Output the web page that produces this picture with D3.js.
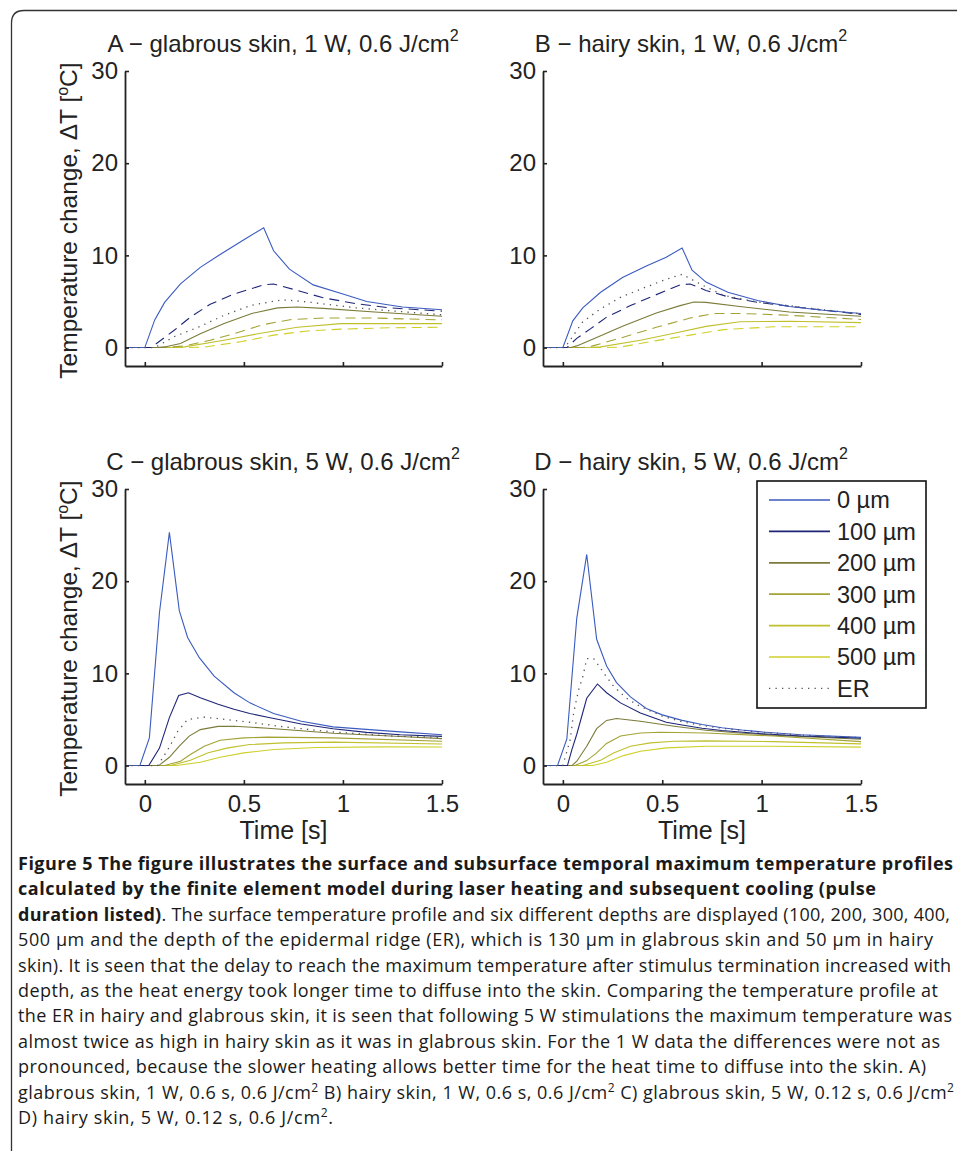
<!DOCTYPE html>
<html>
<head>
<meta charset="utf-8">
<script src="https://cdn.jsdelivr.net/npm/d3@7"></script>
<style>
  body { margin: 0; background: #fff; }
  svg text { font-family: "Liberation Sans", Arial, Helvetica, sans-serif; fill: #222; }
  .caption text { font-family: "Open Sans", sans-serif; fill: #1a1a1a; }
</style>
</head>
<body>
<svg id="fig"></svg>
<script>
// ---- data -------------------------------------------------------------
// depth labels in legend order, one series per depth in every panel
const depths = ['0 µm', '100 µm', '200 µm', '300 µm', '400 µm', '500 µm', 'ER'];
const depthColors = ['#3b5bbf', '#1e2578', '#7b7b3a', '#a3a335', '#c0c02e', '#cfcf2a', '#555555'];

const panelTitles = [
  'A \u2212 glabrous skin, 1 W, 0.6 J/cm',
  'B \u2212 hairy skin, 1 W, 0.6 J/cm',
  'C \u2212 glabrous skin, 5 W, 0.6 J/cm',
  'D \u2212 hairy skin, 5 W, 0.6 J/cm'
];
const xTicks = [0, 0.5, 1, 1.5];
const yTicks = [0, 10, 20, 30];

// [time (s), temperature change (°C)]
const panelA = [
  [[-0.1,0],[0,0],[0.05,3.0],[0.1,4.9],[0.18,6.9],[0.28,8.7],[0.38,10.1],[0.5,11.7],[0.6,13.0],[0.65,10.5],[0.73,8.5],[0.85,6.8],[1.0,5.8],[1.12,5.0],[1.3,4.4],[1.5,4.1]],
  [[-0.1,0],[0.03,0],[0.05,0.3],[0.15,1.9],[0.23,3.3],[0.33,4.7],[0.45,5.8],[0.54,6.4],[0.6,6.8],[0.65,6.9],[0.77,6.2],[0.9,5.4],[1.07,4.75],[1.24,4.3],[1.5,3.95]],
  [[-0.1,0],[0.06,0],[0.1,0.07],[0.18,0.45],[0.28,1.5],[0.4,2.6],[0.54,3.7],[0.67,4.3],[0.77,4.4],[0.9,4.25],[1.16,3.85],[1.5,3.4]],
  [[-0.1,0],[0.1,0],[0.2,0.18],[0.33,0.8],[0.45,1.5],[0.6,2.5],[0.74,3.05],[0.9,3.2],[1.16,3.2],[1.5,3.0]],
  [[-0.1,0],[0.12,0],[0.2,0.07],[0.4,0.8],[0.57,1.5],[0.77,2.2],[0.99,2.6],[1.24,2.6],[1.5,2.6]],
  [[-0.1,0],[0.2,0],[0.3,0.05],[0.49,0.65],[0.65,1.35],[0.82,1.8],[0.99,2.0],[1.24,2.15],[1.5,2.2]],
  [[-0.1,0],[0.05,0],[0.15,1.2],[0.28,2.3],[0.4,3.5],[0.54,4.6],[0.67,5.1],[0.72,5.15],[0.82,4.95],[1.07,4.3],[1.32,3.85],[1.5,3.55]]
];

const panelB = [
  [[-0.1,0],[0,0],[0.05,2.9],[0.1,4.3],[0.19,6.0],[0.3,7.6],[0.42,8.85],[0.52,9.8],[0.6,10.8],[0.65,8.4],[0.72,7.1],[0.83,6.0],[0.98,5.1],[1.14,4.45],[1.31,4.05],[1.5,3.7]],
  [[-0.1,0],[0.02,0],[0.07,1.0],[0.14,2.05],[0.22,3.3],[0.34,4.55],[0.46,5.65],[0.59,6.8],[0.64,6.9],[0.72,6.2],[0.84,5.45],[0.98,4.9],[1.23,4.25],[1.5,3.6]],
  [[-0.1,0],[0.04,0],[0.07,0.18],[0.17,1.1],[0.3,2.3],[0.47,3.75],[0.59,4.55],[0.66,4.95],[0.72,4.9],[0.89,4.45],[1.14,3.85],[1.5,3.4]],
  [[-0.1,0],[0.1,0],[0.15,0.18],[0.3,1.1],[0.47,2.2],[0.64,3.2],[0.76,3.7],[0.89,3.7],[1.14,3.5],[1.5,3.05]],
  [[-0.1,0],[0.12,0],[0.19,0.07],[0.39,0.8],[0.56,1.55],[0.72,2.3],[0.89,2.8],[1.14,2.85],[1.5,2.7]],
  [[-0.1,0],[0.2,0],[0.29,0.05],[0.47,0.75],[0.64,1.35],[0.81,1.95],[1.06,2.25],[1.5,2.25]],
  [[-0.1,0],[0.01,0],[0.03,0.6],[0.1,2.8],[0.19,4.2],[0.29,5.45],[0.41,6.5],[0.52,7.4],[0.6,7.95],[0.69,6.9],[0.81,5.65],[0.98,4.95],[1.23,4.3],[1.5,3.65]]
];

const panelC = [
  [[-0.1,0],[-0.025,0],[0.023,3.0],[0.074,16.6],[0.124,25.3],[0.174,16.8],[0.216,13.9],[0.275,11.7],[0.35,9.7],[0.45,7.9],[0.53,6.8],[0.65,5.65],[0.79,4.8],[0.95,4.2],[1.1,3.95],[1.29,3.65],[1.5,3.35]],
  [[-0.1,0],[0.02,0],[0.074,1.9],[0.124,5.2],[0.171,7.6],[0.22,7.9],[0.28,7.35],[0.37,6.65],[0.45,6.1],[0.53,5.65],[0.62,5.25],[0.79,4.5],[0.95,4.0],[1.12,3.6],[1.29,3.35],[1.5,3.17]],
  [[-0.1,0],[0.07,0],[0.124,0.9],[0.174,2.1],[0.224,3.2],[0.28,3.9],[0.37,4.25],[0.45,4.27],[0.62,4.05],[0.79,3.77],[0.95,3.5],[1.29,3.15],[1.5,2.92]],
  [[-0.1,0],[0.1,0],[0.18,0.47],[0.23,1.2],[0.3,2.1],[0.38,2.75],[0.5,3.0],[0.62,3.08],[0.95,3.0],[1.5,2.63]],
  [[-0.1,0],[0.13,0],[0.23,0.58],[0.32,1.38],[0.42,1.92],[0.53,2.28],[0.7,2.46],[0.95,2.54],[1.5,2.34]],
  [[-0.1,0],[0.16,0],[0.28,0.36],[0.38,0.9],[0.5,1.38],[0.65,1.74],[0.87,1.96],[1.2,2.03],[1.5,2.01]],
  [[-0.1,0],[0.065,0],[0.116,1.7],[0.166,3.7],[0.216,5.0],[0.3,5.25],[0.38,5.07],[0.53,4.7],[0.7,4.2],[0.95,3.65],[1.25,3.2],[1.5,3.05]]
];

const panelD = [
  [[-0.1,0],[-0.027,0],[0.02,2.9],[0.07,16.0],[0.12,22.9],[0.17,13.7],[0.22,10.8],[0.27,9.0],[0.34,7.45],[0.42,6.2],[0.5,5.5],[0.6,4.9],[0.7,4.45],[0.8,4.1],[0.9,3.85],[1.0,3.65],[1.2,3.35],[1.35,3.2],[1.5,3.06]],
  [[-0.1,0],[0.023,0],[0.045,1.7],[0.07,3.4],[0.12,7.3],[0.174,8.85],[0.22,7.9],[0.29,6.8],[0.39,5.7],[0.52,4.7],[0.6,4.4],[0.7,4.05],[0.8,3.8],[1.0,3.45],[1.2,3.2],[1.5,2.98]],
  [[-0.1,0],[0.045,0],[0.07,0.47],[0.12,2.1],[0.17,4.0],[0.22,4.9],[0.27,5.1],[0.39,4.8],[0.56,4.27],[0.72,3.83],[0.89,3.54],[1.06,3.3],[1.5,2.85]],
  [[-0.1,0],[0.06,0],[0.12,0.54],[0.17,1.37],[0.22,2.4],[0.29,3.2],[0.39,3.54],[0.49,3.62],[0.72,3.54],[1.06,3.2],[1.5,2.6]],
  [[-0.1,0],[0.1,0],[0.19,0.58],[0.255,1.37],[0.34,2.1],[0.44,2.46],[0.56,2.64],[0.72,2.68],[1.06,2.6],[1.5,2.35]],
  [[-0.1,0],[0.15,0],[0.22,0.36],[0.305,1.08],[0.39,1.55],[0.52,1.92],[0.72,2.1],[1.06,2.1],[1.5,2.0]],
  [[-0.1,0],[0,0],[0.037,2.8],[0.054,5.7],[0.079,8.2],[0.1,9.6],[0.12,11.6],[0.155,11.6],[0.18,10.85],[0.205,10.05],[0.255,8.6],[0.32,7.3],[0.39,6.4],[0.5,5.35],[0.6,4.75],[0.7,4.35],[0.8,4.05],[1.0,3.6],[1.2,3.3],[1.5,3.02]]
];

// caption, line by line (b = bold, s = superscript)
const captionLines = [
  [{t: 'Figure 5 The figure illustrates the surface and subsurface temporal maximum temperature profiles', b: true}],
  [{t: 'calculated by the finite element model during laser heating and subsequent cooling (pulse', b: true}],
  [{t: 'duration listed)', b: true}, {t: '. The surface temperature profile and six different depths are displayed (100, 200, 300, 400,'}],
  [{t: '500 µm and the depth of the epidermal ridge (ER), which is 130 µm in glabrous skin and 50 µm in hairy'}],
  [{t: 'skin). It is seen that the delay to reach the maximum temperature after stimulus termination increased with'}],
  [{t: 'depth, as the heat energy took longer time to diffuse into the skin. Comparing the temperature profile at'}],
  [{t: 'the ER in hairy and glabrous skin, it is seen that following 5 W stimulations the maximum temperature was'}],
  [{t: 'almost twice as high in hairy skin as it was in glabrous skin. For the 1 W data the differences were not as'}],
  [{t: 'pronounced, because the slower heating allows better time for the heat time to diffuse into the skin. A)'}],
  [{t: 'glabrous skin, 1 W, 0.6 s, 0.6 J/cm'}, {t: '2', s: true}, {t: ' B) hairy skin, 1 W, 0.6 s, 0.6 J/cm'}, {t: '2', s: true}, {t: ' C) glabrous skin, 5 W, 0.12 s, 0.6 J/cm'}, {t: '2', s: true}],
  [{t: 'D) hairy skin, 5 W, 0.12 s, 0.6 J/cm'}, {t: '2', s: true}, {t: '.'}]
];

// ---- drawing ----------------------------------------------------------
var figure5 = {};

figure5.width = 957;
figure5.height = 1151;

// axes boxes in page pixels
figure5.panels = [
  {data: panelA, left: 125, right: 442, top: 71, bottom: 366, titleX: 283, dashed: true, xLabels: false, yLabel: true},
  {data: panelB, left: 543, right: 861, top: 71, bottom: 366, titleX: 691, dashed: true, xLabels: false, yLabel: false},
  {data: panelC, left: 125, right: 442, top: 489, bottom: 784, titleX: 283, dashed: false, xLabels: true, yLabel: true},
  {data: panelD, left: 543, right: 861, top: 489, bottom: 784, titleX: 691, dashed: false, xLabels: true, yLabel: false, legend: true}
];

// caption widths so lines wrap like the original
figure5.captionWidths = [935, 858, 932, 915, 933, 920, 934, 922, 908, 936, 315];

figure5.dash = function(i, dashed) {
  if (i === 6) return '1.3,5.2';
  if (dashed && (i === 1 || i === 3 || i === 5)) return '10,6';
  return null;
};

figure5.ready = function() {
  const svg = d3.select('#fig')
    .attr('width', figure5.width)
    .attr('height', figure5.height);

  svg.append('rect')
    .attr('width', figure5.width)
    .attr('height', figure5.height)
    .attr('fill', '#fff');

  // rounded frame (left and top edges)
  svg.append('path')
    .attr('d', 'M11.5,1151 V23 Q11.5,10.5 24,10.5 H957')
    .attr('fill', 'none')
    .attr('stroke', '#333')
    .attr('stroke-width', 1.3);

  figure5.panels.forEach((p, k) => figure5.drawPanel(svg, p, k));
  figure5.drawCaption(svg);
};

figure5.drawPanel = function(svg, p, k) {
  const xScale = d3.scaleLinear().domain([-0.1, 1.5]).range([p.left, p.right]);
  const yScale = d3.scaleLinear().domain([-2, 30]).range([p.bottom, p.top]);

  const g = svg.append('g').attr('class', 'panel');

  // lines
  const lineGen = d3.line()
    .x(d => xScale(d[0]))
    .y(d => yScale(d[1]));

  const order = [5, 4, 3, 2, 1, 0, 6];
  g.selectAll('.series')
    .data(order)
    .enter()
    .append('path')
    .attr('class', 'series')
    .attr('d', i => lineGen(p.data[i]))
    .attr('fill', 'none')
    .attr('stroke', i => depthColors[i])
    .attr('stroke-width', i => i === 6 ? 1.3 : 1.1)
    .attr('stroke-dasharray', i => figure5.dash(i, p.dashed));

  // axes
  const yAxis = d3.axisLeft(yScale)
    .tickValues(yTicks)
    .tickSizeInner(-4)
    .tickSizeOuter(0)
    .tickPadding(7);

  const yAxisDraw = g.append('g')
    .attr('transform', `translate(${p.left},0)`)
    .call(yAxis);

  const xAxis = d3.axisBottom(xScale)
    .tickValues(xTicks)
    .tickSizeInner(-4)
    .tickSizeOuter(0)
    .tickPadding(11)
    .tickFormat(d => p.xLabels ? d3.format('~g')(d) : '');

  const xAxisDraw = g.append('g')
    .attr('transform', `translate(0,${p.bottom})`)
    .call(xAxis);

  [xAxisDraw, yAxisDraw].forEach(a => {
    a.attr('font-size', 24).attr('font-family', null);
    a.select('.domain').attr('stroke', '#222').attr('stroke-width', 1.8);
    a.selectAll('.tick line').attr('stroke', '#222').attr('stroke-width', 1.6);
    a.selectAll('.tick text').attr('fill', '#222');
  });

  // title with superscript
  const title = g.append('text')
    .attr('x', p.titleX)
    .attr('y', p.top - 19)
    .attr('text-anchor', 'middle')
    .attr('font-size', 24);
  title.append('tspan').text(panelTitles[k]);
  title.append('tspan').attr('dy', -11).attr('font-size', 16).text('2');

  if (p.yLabel) {
    const yl = g.append('text')
      .attr('transform', `translate(77,${(p.top + p.bottom) / 2 + 2}) rotate(-90)`)
      .attr('text-anchor', 'middle')
      .attr('font-size', 24.5);
    yl.append('tspan').text('Temperature change, \u0394T [');
    yl.append('tspan').attr('dy', -9).attr('font-size', 16).text('o');
    yl.append('tspan').attr('dy', 9).text('C]');
  }

  if (p.xLabels) {
    g.append('text')
      .attr('x', (p.left + p.right) / 2)
      .attr('y', p.bottom + 55)
      .attr('text-anchor', 'middle')
      .attr('font-size', 25)
      .text('Time [s]');
  }

  if (p.legend) figure5.drawLegend(g);
};

figure5.drawLegend = function(g) {
  const box = {x: 757, y: 481, w: 169, h: 227};
  const leg = g.append('g').attr('class', 'legend');

  leg.append('rect')
    .attr('x', box.x)
    .attr('y', box.y)
    .attr('width', box.w)
    .attr('height', box.h)
    .attr('fill', '#fff')
    .attr('stroke', '#111')
    .attr('stroke-width', 1.6);

  const rowY = i => 500 + i * 31.4;

  const rows = leg.selectAll('.legend-row')
    .data(depths)
    .enter()
    .append('g')
    .attr('class', 'legend-row');

  rows.append('line')
    .attr('x1', 769)
    .attr('x2', 830)
    .attr('y1', (d, i) => rowY(i))
    .attr('y2', (d, i) => rowY(i))
    .attr('stroke', (d, i) => depthColors[i])
    .attr('stroke-width', (d, i) => i === 6 ? 1.3 : 1.7)
    .attr('stroke-dasharray', (d, i) => i === 6 ? '1.3,5.2' : null);

  rows.append('text')
    .attr('x', 837)
    .attr('y', (d, i) => rowY(i))
    .attr('dy', '0.36em')
    .attr('font-size', 23.5)
    .text(d => d);
};

figure5.drawCaption = function(svg) {
  const cap = svg.append('g').attr('class', 'caption');

  captionLines.forEach((parts, i) => {
    const line = cap.append('text')
      .attr('x', 18)
      .attr('y', 870 + i * 25.4)
      .attr('font-size', 18)
      .attr('textLength', figure5.captionWidths[i])
      .attr('lengthAdjust', 'spacing');

    let raised = false;
    parts.forEach(part => {
      const ts = line.append('tspan').text(part.t);
      if (part.b) ts.attr('font-weight', 'bold');
      if (part.s) {
        ts.attr('font-size', 12).attr('dy', -7);
        raised = true;
      } else if (raised) {
        ts.attr('dy', 7);
        raised = false;
      }
    });
  });
};

figure5.ready();
</script>
</body>
</html>
